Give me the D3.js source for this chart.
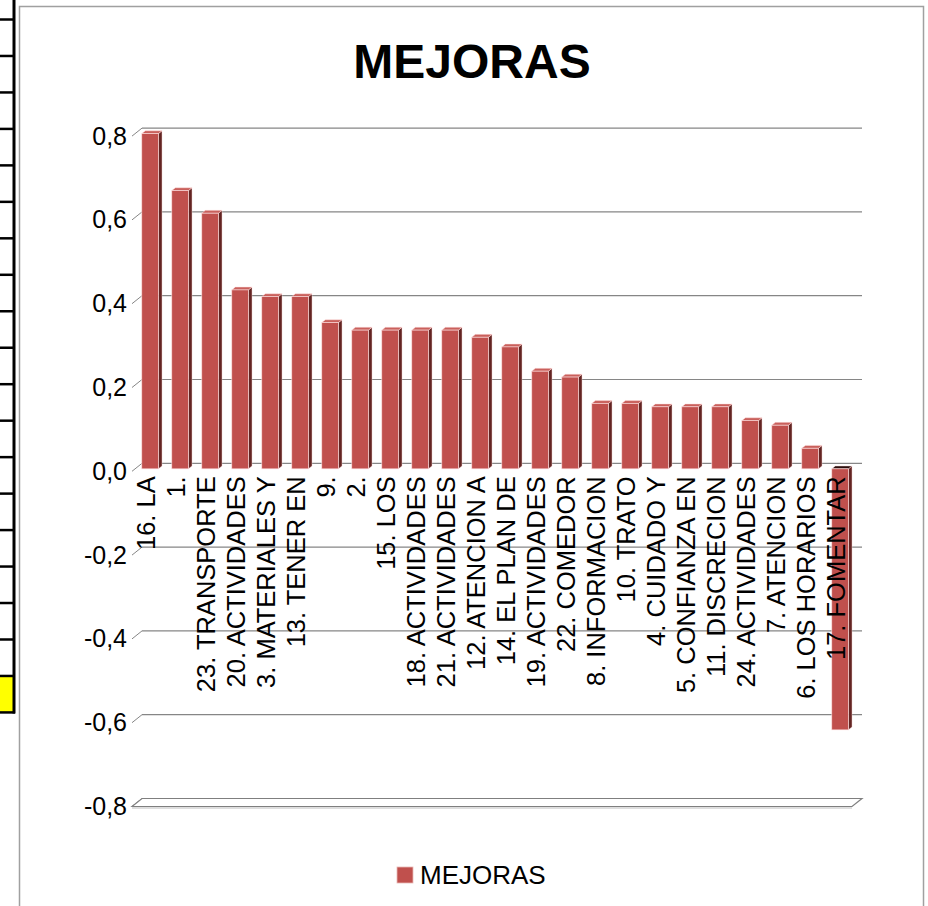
<!DOCTYPE html>
<html>
<head>
<meta charset="utf-8">
<script src="https://cdn.jsdelivr.net/npm/d3@7"></script>
<style>
  html, body { margin: 0; padding: 0; background: #fff; }
  svg { display: block; }
  text { font-family: "Liberation Sans", Arial, sans-serif; }
</style>
</head>
<body>
<svg id="chart" width="928" height="906"></svg>
<script>
// Categories, in plotted order
const categories = [
  "16. LA", "1.", "23. TRANSPORTE", "20. ACTIVIDADES", "3. MATERIALES Y",
  "13. TENER EN", "9.", "2.", "15. LOS", "18. ACTIVIDADES", "21. ACTIVIDADES",
  "12. ATENCION A", "14. EL PLAN DE", "19. ACTIVIDADES", "22. COMEDOR",
  "8. INFORMACION", "10. TRATO", "4. CUIDADO Y", "5. CONFIANZA EN",
  "11. DISCRECION", "24. ACTIVIDADES", "7. ATENCION", "6. LOS HORARIOS",
  "17. FOMENTAR"
];

// Series "MEJORAS"
const mejoras = [
  0.800, 0.664, 0.610, 0.427, 0.411,
  0.411, 0.349, 0.331, 0.331, 0.331, 0.331,
  0.314, 0.291, 0.233, 0.219,
  0.156, 0.156, 0.148, 0.148,
  0.148, 0.115, 0.104, 0.049,
  -0.623
];

// Value axis ticks
const yTicks = [0.8, 0.6, 0.4, 0.2, 0.0, -0.2, -0.4, -0.6, -0.8];

const seriesName = "MEJORAS";
const chartTitle = "MEJORAS";

const svg = d3.select("#chart");

// --- worksheet cells peeking in at the left edge ---
const cells = svg.append("g");
const cellTop = 19.5, cellStep = 36.47, cellCount = 19;
cells.append("rect")
  .attr("x", 0).attr("y", cellTop + 18 * cellStep)
  .attr("width", 14).attr("height", cellStep)
  .attr("fill", "#ffff00");
for (let i = 0; i <= cellCount; i++) {
  cells.append("line")
    .attr("x1", 0).attr("x2", 15)
    .attr("y1", cellTop + i * cellStep).attr("y2", cellTop + i * cellStep)
    .attr("stroke", "#000").attr("stroke-width", 2.5);
}
cells.append("line")
  .attr("x1", 14).attr("x2", 14)
  .attr("y1", 0).attr("y2", cellTop + cellCount * cellStep + 1)
  .attr("stroke", "#000").attr("stroke-width", 3);

// --- chart area frame ---
svg.append("rect")
  .attr("x", 19.5).attr("y", 6.5)
  .attr("width", 904).attr("height", 920)
  .attr("fill", "#fff")
  .attr("stroke", "#a0a0a0").attr("stroke-width", 1.5);

// --- scales (back wall plane) ---
const x = d3.scaleBand()
  .domain(categories)
  .range([142, 862])
  .paddingInner(0).paddingOuter(0);

const y = d3.scaleLinear()
  .domain([-0.8, 0.8])
  .range([798.5, 128.1]);

// depth vector from back wall to the front edge of the floor
const depth = { dx: -10, dy: 8 };
const barFront = 0.69, barBack = 0.33;
const barW = x.bandwidth() * 0.555;

// --- back wall gridlines with diagonal ticks ---
const grid = svg.append("g");
yTicks.filter(t => t !== -0.8).forEach(t => {
  grid.append("line")
    .attr("x1", x.range()[0]).attr("x2", x.range()[1])
    .attr("y1", y(t)).attr("y2", y(t))
    .attr("stroke", "#868686").attr("stroke-width", 1.2);
});
yTicks.forEach(t => {
  grid.append("line")
    .attr("x1", x.range()[0] + depth.dx).attr("y1", y(t) + depth.dy)
    .attr("x2", x.range()[0]).attr("y2", y(t))
    .attr("stroke", "#868686").attr("stroke-width", 1);
});

// --- floor plate at the axis minimum ---
const fy = y(-0.8);
const x0 = x.range()[0], x1 = x.range()[1];
svg.append("path")
  .attr("d", `M${x0 + depth.dx},${fy + depth.dy} L${x0},${fy} L${x1},${fy} L${x1 + depth.dx},${fy + depth.dy} Z`)
  .attr("fill", "#fff").attr("stroke", "#7f7f7f").attr("stroke-width", 1.2);
svg.append("line")
  .attr("x1", x0 + depth.dx).attr("x2", x1 + depth.dx)
  .attr("y1", fy + depth.dy + 1.5).attr("y2", fy + depth.dy + 1.5)
  .attr("stroke", "#bdbdbd").attr("stroke-width", 1);

// --- value axis labels (front plane) ---
const yFront = y.copy().range(y.range().map(r => r + depth.dy));
const fmt = d3.format(".1f");
const yAxis = d3.axisLeft(yFront)
  .tickValues(yTicks)
  .tickSize(0)
  .tickPadding(0)
  .tickFormat(d => fmt(Math.abs(d) < 1e-9 ? 0 : d).replace("\u2212", "-").replace(".", ","));
const ag = svg.append("g")
  .attr("transform", "translate(127,0)")
  .call(yAxis);
ag.select(".domain").remove();
ag.selectAll("text")
  .attr("font-size", 25)
  .attr("fill", "#000")
  .attr("font-family", "'Liberation Sans', Arial, sans-serif");

// --- 3D columns ---
const sdx = (barBack - barFront) * depth.dx;   // shift toward back for side/top faces
const sdy = (barBack - barFront) * depth.dy;
const faceStroke = "rgba(255,225,225,0.85)";
const bars = svg.append("g");
categories.forEach((c, i) => {
  const v = mejoras[i];
  const cx = x(c) + x.bandwidth() / 2 + barFront * depth.dx;
  const left = cx - barW / 2, right = cx + barW / 2;
  const yv = y(v) + barFront * depth.dy;
  const y0 = y(0) + barFront * depth.dy;
  const top = Math.min(yv, y0), bot = Math.max(yv, y0);
  const g = bars.append("g");
  // side face
  g.append("path")
    .attr("d", `M${right},${top} L${right + sdx},${top + sdy} L${right + sdx},${bot + sdy} L${right},${bot} Z`)
    .attr("fill", "#632523").attr("stroke", faceStroke).attr("stroke-width", 0.5);
  // top face
  g.append("path")
    .attr("d", `M${left},${top} L${left + sdx},${top + sdy} L${right + sdx},${top + sdy} L${right},${top} Z`)
    .attr("fill", v < 0 ? "#2a0f0e" : "#c9605c").attr("stroke", faceStroke).attr("stroke-width", 0.6);
  // front face
  g.append("rect")
    .attr("x", left).attr("y", top)
    .attr("width", barW).attr("height", bot - top)
    .attr("fill", "#C0504D").attr("stroke", faceStroke).attr("stroke-width", 0.7);
});

// --- category labels, rotated ---
const labels = svg.append("g");
categories.forEach(c => {
  const lx = x(c) + x.bandwidth() / 2 + depth.dx - 1;
  const ly = y(0) + depth.dy + 5;
  labels.append("text")
    .attr("transform", `translate(${lx},${ly}) rotate(-90)`)
    .attr("text-anchor", "end")
    .attr("dy", "0.35em")
    .attr("font-size", 25.5)
    .attr("fill", "#000")
    .text(c);
});

// --- title ---
svg.append("text")
  .attr("x", 472).attr("y", 78)
  .attr("text-anchor", "middle")
  .attr("font-size", 48)
  .attr("font-weight", "bold")
  .attr("fill", "#000")
  .text(chartTitle);

// --- legend ---
const lg = svg.append("g").attr("transform", "translate(397,867)");
lg.append("rect")
  .attr("width", 16).attr("height", 16)
  .attr("fill", "#C0504D").attr("stroke", "#e8b8b6").attr("stroke-width", 0.8);
lg.append("text")
  .attr("x", 23).attr("y", 16.5)
  .attr("font-size", 26)
  .attr("fill", "#000")
  .text(seriesName);
</script>
</body>
</html>
